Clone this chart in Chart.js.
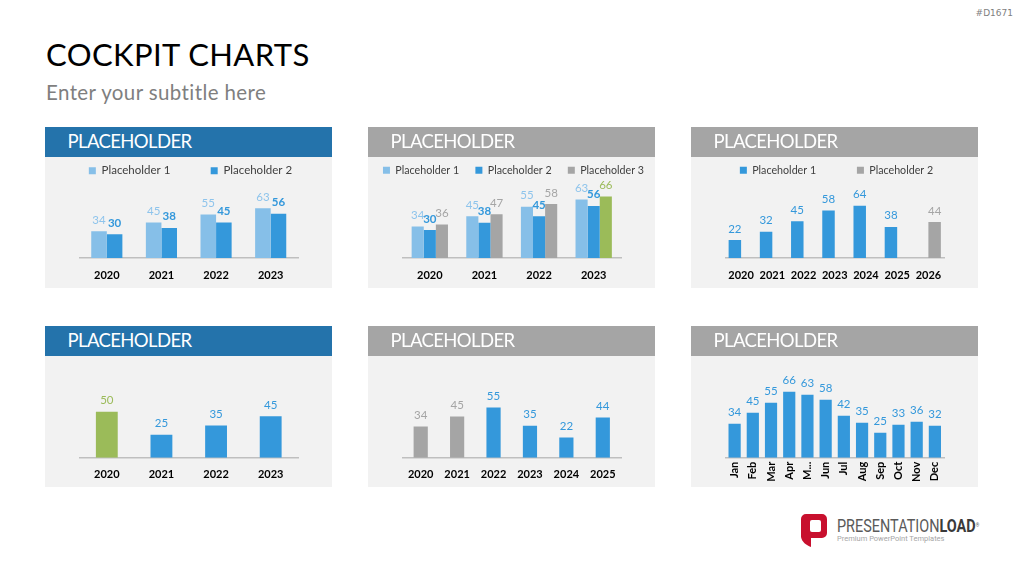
<!DOCTYPE html>
<html><head><meta charset="utf-8">
<script src="https://cdn.jsdelivr.net/npm/chart.js@4.4.1/dist/chart.umd.min.js"></script>
<style>
html,body{margin:0;padding:0;background:#fff;width:1024px;height:576px;overflow:hidden;font-family:Lato,sans-serif;position:relative}
.abs{position:absolute;white-space:nowrap}
#title{left:46px;top:39px;font-size:31px;line-height:31px;color:#000;letter-spacing:0.4px}
#subtitle{left:46px;top:82px;font-size:20.5px;line-height:20px;color:#7f7f7f;letter-spacing:0.4px}
#code{right:11px;top:8px;font-size:9px;line-height:10px;color:#7f7f7f;font-family:"DejaVu Sans",sans-serif}
.panel{position:absolute;width:287px;height:161px;background:#f2f2f2}
.head{height:30px;color:#fff;font-size:18.5px;line-height:30px;padding-left:22.5px;letter-spacing:-0.6px}
.head span{position:relative;top:-1px}
.blue{background:#2473ab}
.gray{background:#a5a5a5}
canvas{position:absolute;left:-20px;top:30px}
#logoText{left:837px;top:515.5px;font-family:Roboto,sans-serif;font-size:19px;line-height:19px;color:#5a5a5a;transform:scaleX(0.76);transform-origin:0 0}
#logoText b{color:#3a3a3a}
#logoText sup{font-size:6px;vertical-align:top;position:relative;top:-1px}
#tagline{left:837px;top:535px;font-family:Roboto,sans-serif;font-size:7.5px;line-height:8px;color:#a6a6a6}
</style>
</head>
<body>
<div class="abs" id="code">#D1671</div>
<div class="abs" id="title">COCKPIT CHARTS</div>
<div class="abs" id="subtitle">Enter your subtitle here</div>

<div class="panel" style="left:45px;top:127px"><div class="head blue"><span>PLACEHOLDER</span></div><canvas id="c1" width="327" height="131"></canvas></div>
<div class="panel" style="left:368px;top:127px"><div class="head gray"><span>PLACEHOLDER</span></div><canvas id="c2" width="327" height="131"></canvas></div>
<div class="panel" style="left:691px;top:127px"><div class="head gray"><span>PLACEHOLDER</span></div><canvas id="c3" width="327" height="131"></canvas></div>
<div class="panel" style="left:45px;top:326px"><div class="head blue"><span>PLACEHOLDER</span></div><canvas id="c4" width="327" height="131"></canvas></div>
<div class="panel" style="left:368px;top:326px"><div class="head gray"><span>PLACEHOLDER</span></div><canvas id="c5" width="327" height="131"></canvas></div>
<div class="panel" style="left:691px;top:326px"><div class="head gray"><span>PLACEHOLDER</span></div><canvas id="c6" width="327" height="131"></canvas></div>

<svg class="abs" style="left:801px;top:514px" width="26" height="33" viewBox="0 0 26 33">
<path d="M5,0 H21 A5,5 0 0 1 26,5 V19 A5,5 0 0 1 21,24 H10 V33 C5,31 1,28 0,23 V5 A5,5 0 0 1 5,0 Z" fill="#c8102e"/>
<rect x="9" y="6" width="11" height="12" rx="2" fill="#fff"/>
</svg>
<div class="abs" id="logoText">PRESENTATION<b>LOAD</b><sup>®</sup></div>
<div class="abs" id="tagline">Premium PowerPoint Templates</div>

<script>
// ---------- DATA ----------
const years4 = ['2020', '2021', '2022', '2023'];
const years6 = ['2020', '2021', '2022', '2023', '2024', '2025'];
const years7 = ['2020', '2021', '2022', '2023', '2024', '2025', '2026'];
const months = ['Jan', 'Feb', 'Mar', 'Apr', 'May', 'Jun', 'Jul', 'Aug', 'Sep', 'Oct', 'Nov', 'Dec'];
const monthTickLabels = ['Jan', 'Feb', 'Mar', 'Apr', 'M...', 'Jun', 'Jul', 'Aug', 'Sep', 'Oct', 'Nov', 'Dec'];
const seriesNames = ['Placeholder 1', 'Placeholder 2', 'Placeholder 3'];

const c1Series1 = [34, 45, 55, 63];
const c1Series2 = [30, 38, 45, 56];

const c2Series1 = [34, 45, 55, 63];
const c2Series2 = [30, 38, 45, 56];
const c2Series3 = [36, 47, 58, 66];

const c3Series1 = [22, 32, 45, 58, 64, 38, null];
const c3Series2 = [null, null, null, null, null, null, 44];

const c4Values = [50, 25, 35, 45];
const c5Values = [34, 45, 55, 35, 22, 44];
const c6Values = [34, 45, 55, 66, 63, 58, 42, 35, 25, 33, 36, 32];

// ---------- STYLES ----------
const LIGHT = '#86bfe8', BLUE = '#3498db', GRAY = '#a5a5a5', GREEN = '#9bbb59';
const LIGHT_TXT = '#8ec4ec';
const SIDE = 20; // canvas overhang on each side of the panel

const valueLabels = {
  id: 'valueLabels',
  afterDatasetsDraw(chart) {
    const ctx = chart.ctx;
    chart.data.datasets.forEach((ds, di) => {
      const meta = chart.getDatasetMeta(di);
      meta.data.forEach((el, i) => {
        const v = ds.data[i];
        if (v === null || v === undefined) return;
        const col = Array.isArray(ds.labelColor) ? ds.labelColor[i] : ds.labelColor;
        ctx.save();
        ctx.font = (ds.labelWeight || 'normal') + ' 11.5px Lato';
        ctx.fillStyle = col;
        ctx.textAlign = 'center';
        ctx.textBaseline = 'alphabetic';
        ctx.fillText(String(v), el.x, el.y - 7.5);
        ctx.restore();
      });
    });
  }
};

function gapLabels(extra, size) {
  return function (chart) {
    const items = Chart.defaults.plugins.legend.labels.generateLabels(chart);
    const ctx = chart.ctx;
    ctx.save();
    ctx.font = size + 'px Lato';
    items.forEach((it, i) => {
      if (i < items.length - 1) {
        const base = ctx.measureText(it.text).width;
        let t = it.text;
        while (ctx.measureText(t).width < base + extra) t += ' ';
        it.text = t;
      }
    });
    ctx.restore();
    return items;
  };
}

function makeChart(id, cfg) {
  const lsize = cfg.legendSize || 11.5;
  const legendCfg = cfg.legendGap === undefined ? { display: false } : {
    display: true, position: 'top', align: 'center',
    labels: {
      boxWidth: 7, boxHeight: 7, padding: 8, color: '#404040',
      font: { family: 'Lato', size: lsize },
      generateLabels: gapLabels(cfg.legendGap, lsize)
    }
  };
  const chart = new Chart(document.getElementById(id), {
    type: 'bar',
    data: { labels: cfg.labels, datasets: cfg.datasets },
    options: {
      responsive: false, animation: false,
      layout: { padding: { left: 4, right: 0, top: 0, bottom: 0 } },
      datasets: { bar: { categoryPercentage: cfg.catPct, barPercentage: 1 } },
      plugins: { legend: legendCfg, tooltip: { enabled: false } },
      scales: {
        x: {
          grid: { display: false, drawTicks: false },
          border: { display: true, color: '#bfbfbf', width: 1.5 },
          ticks: {
            color: '#000', font: { family: 'Lato', size: 11, weight: 'bold' },
            padding: cfg.tickPad, autoSkip: false,
            maxRotation: cfg.rotate, minRotation: cfg.rotate,
            callback: (v, i) => cfg.tickLabels[i]
          },
          afterFit: s => { s.height = cfg.xHeight; }
        },
        y: {
          display: true, min: 0, max: 100,
          ticks: { display: false }, grid: { display: false }, border: { display: false },
          afterFit: s => { s.width = 30.5 + SIDE; }
        },
        yR: {
          position: 'right', display: true,
          ticks: { display: false }, grid: { display: false }, border: { display: false },
          afterFit: s => { s.width = 34 + SIDE; }
        }
      }
    },
    plugins: [valueLabels]
  });
  const a = chart.chartArea;
  chart.options.scales.y.max = (a.bottom - a.top) / cfg.ppu;
  chart.update('none');
  return chart;
}

makeChart('c1', {
  labels: years4, tickLabels: years4, catPct: 0.57, ppu: 0.79, legendGap: 32, legendSize: 11.5,
  tickPad: 10.4, xHeight: 30, rotate: 0,
  datasets: [
    { label: seriesNames[0], data: c1Series1, backgroundColor: LIGHT, labelColor: LIGHT_TXT },
    { label: seriesNames[1], data: c1Series2, backgroundColor: BLUE, labelColor: BLUE, labelWeight: 'bold' }
  ]
});

makeChart('c2', {
  labels: years4, tickLabels: years4, catPct: 0.665, ppu: 0.93, legendGap: 7, legendSize: 10.7,
  tickPad: 10.4, xHeight: 30, rotate: 0,
  datasets: [
    { label: seriesNames[0], data: c2Series1, backgroundColor: LIGHT, labelColor: LIGHT_TXT },
    { label: seriesNames[1], data: c2Series2, backgroundColor: BLUE, labelColor: BLUE, labelWeight: 'bold' },
    { label: seriesNames[2], data: c2Series3, backgroundColor: [GRAY, GRAY, GRAY, GREEN], labelColor: [GRAY, GRAY, GRAY, GREEN] }
  ]
});

makeChart('c3', {
  labels: years7, tickLabels: years7, catPct: 0.8, ppu: 0.817, legendGap: 31, legendSize: 10.7,
  tickPad: 10.4, xHeight: 30, rotate: 0,
  datasets: [
    { label: seriesNames[0], data: c3Series1, backgroundColor: BLUE, labelColor: BLUE },
    { label: seriesNames[1], data: c3Series2, backgroundColor: GRAY, labelColor: GRAY }
  ]
});

makeChart('c4', {
  labels: years4, tickLabels: years4, catPct: 0.4, ppu: 0.92,
  tickPad: 10, xHeight: 29.3, rotate: 0,
  datasets: [
    { label: seriesNames[0], data: c4Values, backgroundColor: [GREEN, BLUE, BLUE, BLUE], labelColor: [GREEN, BLUE, BLUE, BLUE] }
  ]
});

makeChart('c5', {
  labels: years6, tickLabels: years6, catPct: 0.39, ppu: 0.915,
  tickPad: 10, xHeight: 29.3, rotate: 0,
  datasets: [
    { label: seriesNames[0], data: c5Values, backgroundColor: [GRAY, GRAY, BLUE, BLUE, BLUE, BLUE], labelColor: [GRAY, GRAY, BLUE, BLUE, BLUE, BLUE] }
  ]
});

makeChart('c6', {
  labels: months, tickLabels: monthTickLabels, catPct: 0.67, ppu: 1.0,
  tickPad: 4, xHeight: 29.3, rotate: 90,
  datasets: [
    { label: seriesNames[0], data: c6Values, backgroundColor: BLUE, labelColor: BLUE }
  ]
});
</script>
</body></html>
